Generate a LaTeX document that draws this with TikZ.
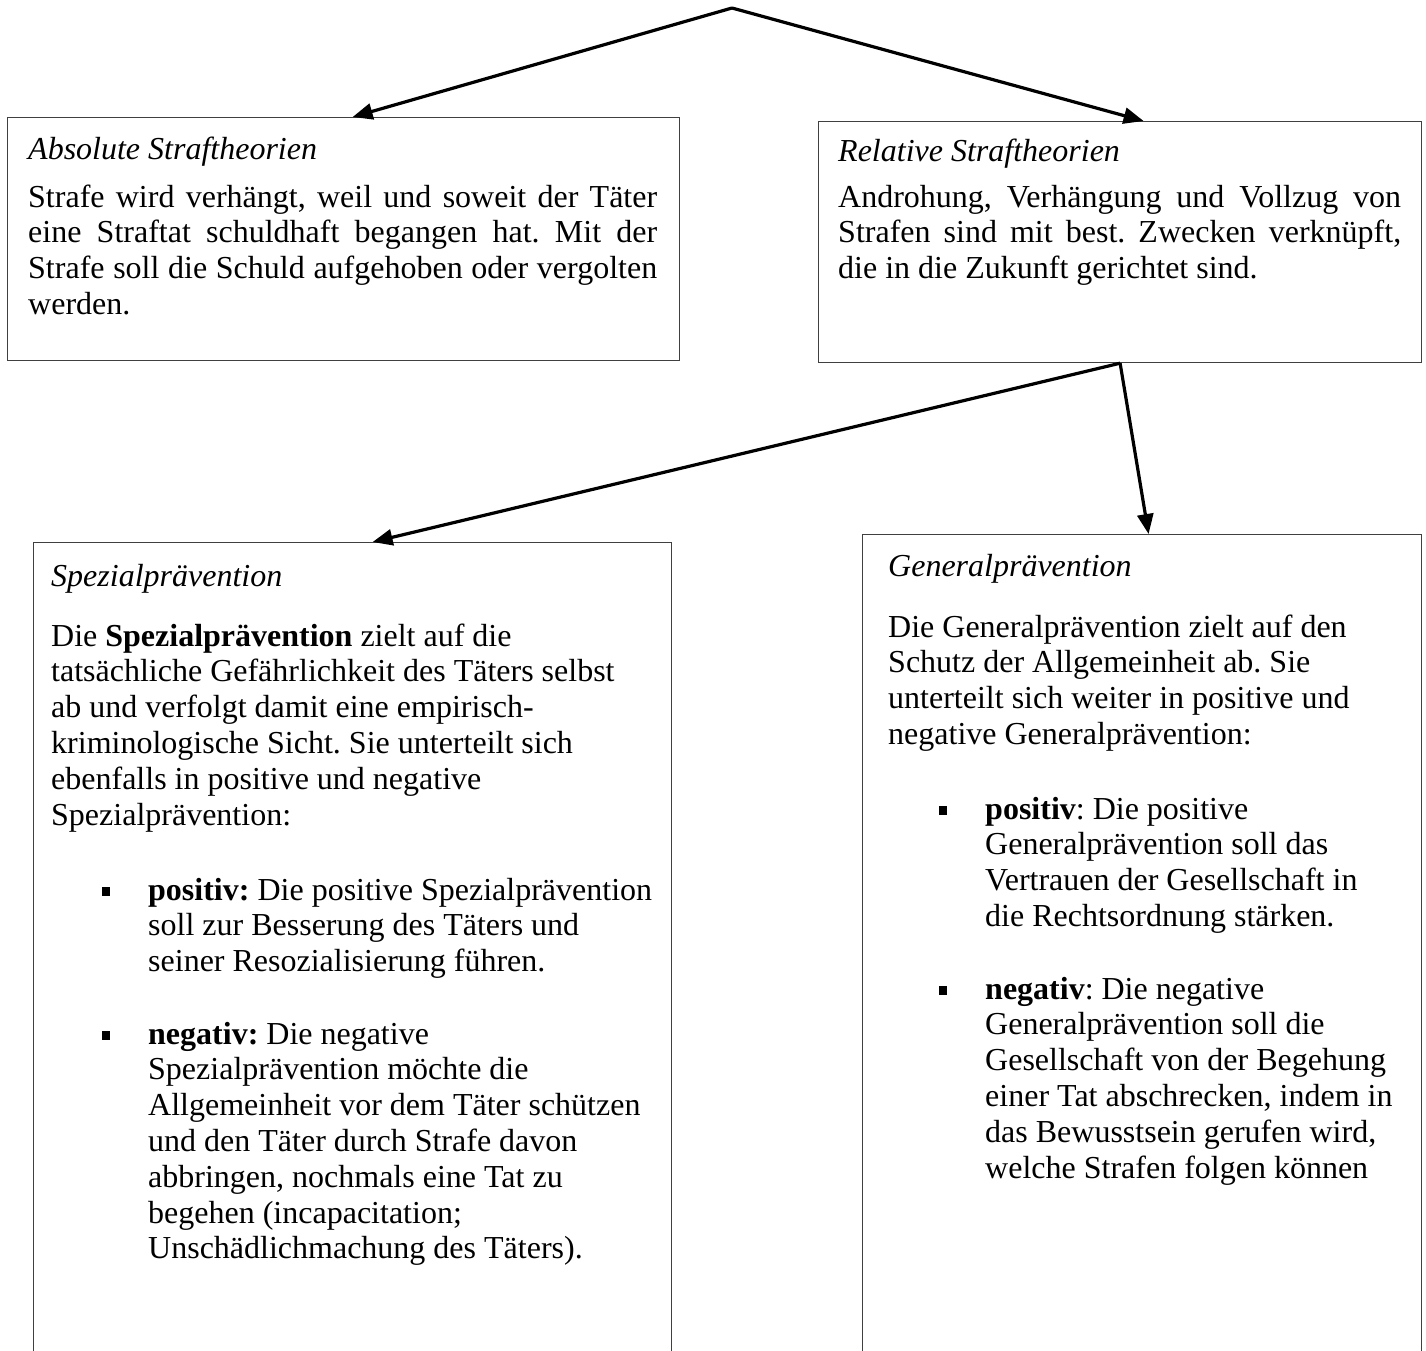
\documentclass[tikz,border=0pt]{standalone}
\usepackage{fontspec}
\setmainfont{Liberation Serif}
\usetikzlibrary{arrows.meta}

\newcommand{\sqbullet}{\leavevmode\llap{\rule[4pt]{8.5pt}{9pt}\hspace{38pt}}}
\newcommand{\jline}[1]{\makebox[\linewidth][s]{#1}\\}

\begin{document}
\begin{tikzpicture}[x=1pt,y=-1pt,
    box/.style={draw=black!75,line width=1.2pt,anchor=north west,inner sep=0pt},
    txt/.style={anchor=base west,inner sep=0pt,font=\fontsize{32}{35.8}\selectfont\frenchspacing},
    link/.style={line width=3.2pt,-{Triangle[length=20pt,width=16pt]}}]
  \useasboundingbox (0,0) rectangle (1426,1350);
  \clip (0,0) rectangle (1426,1350);

  % boxes
  \node[box,minimum width=672pt,minimum height=243pt] (abs) at (7,117) {};
  \node[box,minimum width=603pt,minimum height=241pt] (rel) at (818,121) {};
  \node[box,minimum width=638pt,minimum height=840pt] (spez) at (33,542) {};
  \node[box,minimum width=559pt,minimum height=850pt] (gen) at (862,534) {};

  % arrows
  \coordinate (apex) at (732,8);
  \draw[link] (apex) -- ([xshift=9pt]abs.north);
  \draw[link] (apex) -- ([xshift=23.5pt]rel.north);
  \draw[link] (rel.south) -- ([xshift=20pt]spez.north);
  \draw[link] (rel.south) -- ([xshift=6.5pt]gen.north);

  % absolute
  \node[txt] (abshead) at (28,159) {\itshape Absolute Straftheorien};
  \node[txt] (abstext) at (28,207) {\parbox[t]{629pt}{%
    \jline{Strafe wird verhängt, weil und soweit der Täter}
    \jline{eine Straftat schuldhaft begangen hat. Mit der}
    \jline{Strafe soll die Schuld aufgehoben oder vergolten}
    werden.}};

  % relative
  \node[txt] (relhead) at (838,161) {\itshape Relative Straftheorien};
  \node[txt] (reltext) at (838,207) {\parbox[t]{563pt}{%
    \jline{Androhung, Verhängung und Vollzug von}
    \jline{Strafen sind mit best. Zwecken verknüpft,}
    die in die Zukunft gerichtet sind.}};

  % spezialpraevention
  \node[txt] (spezhead) at (51,586) {\itshape Spezialprävention};
  \node[txt] (speztext) at (51,646) {\parbox[t]{640pt}{%
    Die \textbf{Spezialprävention} zielt auf die\\
    tatsächliche Gefährlichkeit des Täters selbst\\
    ab und verfolgt damit eine empirisch-\\
    kriminologische Sicht. Sie unterteilt sich\\
    ebenfalls in positive und negative\\
    Spezialprävention:}};
  \node[txt] (spezpos) at (148,900) {\parbox[t]{600pt}{%
    \sqbullet\textbf{positiv:} Die positive Spezialprävention\\
    soll zur Besserung des Täters und\\
    seiner Resozialisierung führen.}};
  \node[txt] (spezneg) at (148,1044) {\parbox[t]{600pt}{%
    \sqbullet\textbf{negativ:} Die negative\\
    Spezialprävention möchte die\\
    Allgemeinheit vor dem Täter schützen\\
    und den Täter durch Strafe davon\\
    abbringen, nochmals eine Tat zu\\
    begehen (incapacitation;\\
    Unschädlichmachung des Täters).}};

  % generalpraevention
  \node[txt] (genhead) at (888,576) {\itshape Generalprävention};
  \node[txt] (gentext) at (888,637) {\parbox[t]{600pt}{%
    Die Generalprävention zielt auf den\\
    Schutz der Allgemeinheit ab. Sie\\
    unterteilt sich weiter in positive und\\
    negative Generalprävention:}};
  \node[txt] (genpos) at (985,819) {\parbox[t]{600pt}{%
    \sqbullet\textbf{positiv}: Die positive\\
    Generalprävention soll das\\
    Vertrauen der Gesellschaft in\\
    die Rechtsordnung stärken.}};
  \node[txt] (genneg) at (985,999) {\parbox[t]{600pt}{%
    \sqbullet\textbf{negativ}: Die negative\\
    Generalprävention soll die\\
    Gesellschaft von der Begehung\\
    einer Tat abschrecken, indem in\\
    das Bewusstsein gerufen wird,\\
    welche Strafen folgen können}};
\end{tikzpicture}
\end{document}
